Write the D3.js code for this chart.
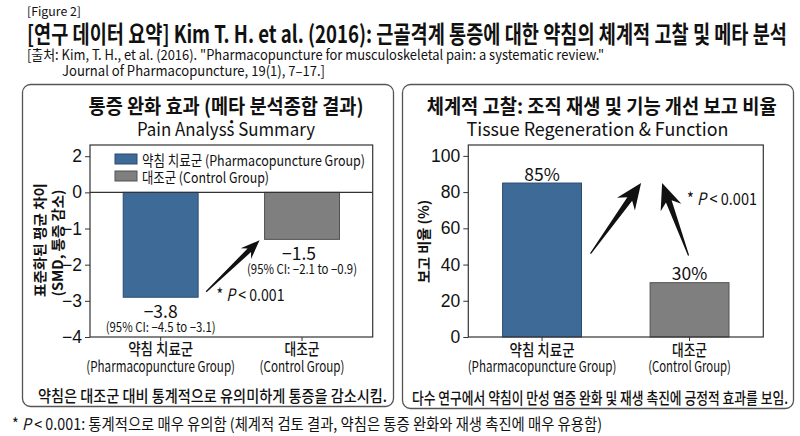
<!DOCTYPE html>
<html>
<head>
<meta charset="utf-8">
<script src="https://cdn.jsdelivr.net/npm/d3@7"></script>
<style>
  html, body { margin: 0; padding: 0; background: #fff; }
  svg { display: block; font-family: "Noto Sans CJK KR", "Noto Sans", sans-serif; }
  text { fill: #111; }
</style>
</head>
<body>
<svg id="chart" width="800" height="436"></svg>
<script>
// Chart values.
const groups = ["약침 치료군", "대조군"];
const groupsEn = ["(Pharmacopuncture Group)", "(Control Group)"];
const legendLabels = ["약침 치료군 (Pharmacopuncture Group)", "대조군 (Control Group)"];
const smdBars = [-2.9, -1.3];            // bar lengths as drawn in the figure
const smdLabels = ["−3.8", "−1.5"];
const smdCI = ["(95% CI: −4.5 to −3.1)", "(95% CI: −2.1 to −0.9)"];
// the figure spaces its ticks evenly, so "2" sits one step above 0
const smdTickPos = [1, 0, -1, -2, -3, -4];
const smdTickLabels = ["2", "0", "−1", "−2", "−3", "−4"];
const regenValues = [85, 30];
const regenTicks = [0, 20, 40, 60, 80, 100];
const barColors = ["#3e6a98", "#7f7f7f"];
const barStrokes = ["#2b4b6e", "#525252"];

const svg = d3.select("#chart");

// Squeeze a text to the width it has in the figure (the source font is narrow).
const fit = (sel, w) => sel.attr("textLength", w).attr("lengthAdjust", "spacingAndGlyphs");

const addText = (g, str, x, y, size, opts = {}) => {
    const t = g.append("text")
        .attr("x", x)
        .attr("y", y)
        .attr("dominant-baseline", "central")
        .attr("text-anchor", opts.anchor || "middle")
        .style("font-size", size + "px")
        .style("font-weight", opts.weight || 400)
        .text(str);
    if (opts.width) fit(t, opts.width);
    return t;
};

// Tapered arrow with a filled, swept-back head.
const arrow = (g, x0, y0, x1, y1, headLen, headW, shaftW) => {
    const dx = x1 - x0, dy = y1 - y0, len = Math.hypot(dx, dy);
    const ux = dx / len, uy = dy / len, nx = -uy, ny = ux;
    const bx = x1 - ux * headLen, by = y1 - uy * headLen;
    const nb = 0.25 * headLen;
    const pts = [
        [x0 + nx * 0.6, y0 + ny * 0.6],
        [bx + ux * nb + nx * shaftW / 2, by + uy * nb + ny * shaftW / 2],
        [bx + nx * headW / 2, by + ny * headW / 2],
        [x1, y1],
        [bx - nx * headW / 2, by - ny * headW / 2],
        [bx + ux * nb - nx * shaftW / 2, by + uy * nb - ny * shaftW / 2],
        [x0 - nx * 0.6, y0 - ny * 0.6]
    ];
    g.append("path").attr("d", d3.line()(pts) + "Z").attr("fill", "#111");
};

const pLabel = (g, x, y, w) => {
    const t = g.append("text")
        .attr("x", x).attr("y", y)
        .attr("dominant-baseline", "central")
        .style("font-size", "17px");
    t.append("tspan").text("* ");
    t.append("tspan").style("font-style", "italic").text("P");
    t.append("tspan").text(" < 0.001");
    fit(t, w);
};

// ---- header ----
addText(svg, "[Figure 2]", 27, 10, 12, { anchor: "start", width: 54 });
addText(svg, "[연구 데이터 요약] Kim T. H. et al. (2016): 근골격계 통증에 대한 약침의 체계적 고찰 및 메타 분석",
    27, 32.5, 24, { anchor: "start", weight: 700, width: 760 });
addText(svg, "[출처: Kim, T. H., et al. (2016). \"Pharmacopuncture for musculoskeletal pain: a systematic review.\"",
    27, 53.5, 14, { anchor: "start", width: 577 });
addText(svg, "Journal of Pharmacopuncture, 19(1), 7–17.]", 62, 70, 14, { anchor: "start", width: 263 });

// ---- panels ----
svg.append("rect").attr("x", 22.5).attr("y", 84.5).attr("width", 371).attr("height", 322)
    .attr("rx", 8).attr("fill", "none").attr("stroke", "#555").attr("stroke-width", 1.3);
svg.append("rect").attr("x", 402.5).attr("y", 84.5).attr("width", 391).attr("height", 324)
    .attr("rx", 8).attr("fill", "none").attr("stroke", "#555").attr("stroke-width", 1.3);

// ================= left: pain SMD =================
const L = { left: 90, right: 372.7, top: 145, bottom: 337 };
const xL = d3.scaleBand().domain(groups).range([L.left, L.right]).paddingInner(0.47).paddingOuter(0.235);
const yL = d3.scaleLinear().domain([-4, 1.31]).range([L.bottom, L.top]);
const gL = svg.append("g");

addText(gL, "통증 완화 효과 (메타 분석종합 결과)", 226, 105.5, 20, { weight: 700, width: 275 });
addText(gL, "Pain Analyṡs Summary", 226, 127.5, 18, { width: 178 });

gL.append("g")
    .attr("transform", `translate(${L.left},0)`)
    .call(d3.axisLeft(yL).tickValues(smdTickPos).tickSize(5).tickPadding(3)
        .tickFormat((d, i) => smdTickLabels[i]))
    .call(g => g.select(".domain").remove())
    .call(g => g.selectAll("text").style("font-size", "17.5px").attr("fill", "#111"))
    .call(g => g.selectAll("line").attr("stroke", "#333"));

gL.append("g")
    .attr("transform", `translate(0,${L.bottom})`)
    .call(d3.axisBottom(xL).tickSize(4).tickFormat(""))
    .call(g => g.select(".domain").remove())
    .call(g => g.selectAll("line").attr("stroke", "#333"));

gL.selectAll(".bar")
    .data(smdBars)
    .join("rect")
    .attr("class", "bar")
    .attr("x", (d, i) => xL(groups[i]))
    .attr("y", yL(0))
    .attr("width", xL.bandwidth())
    .attr("height", d => yL(d) - yL(0))
    .attr("fill", (d, i) => barColors[i])
    .attr("stroke", (d, i) => barStrokes[i])
    .attr("stroke-width", 1);

// frame and zero line
gL.append("rect").attr("x", L.left).attr("y", L.top)
    .attr("width", L.right - L.left).attr("height", L.bottom - L.top)
    .attr("fill", "none").attr("stroke", "#333").attr("stroke-width", 1.2);
gL.append("line").attr("x1", L.left).attr("x2", L.right)
    .attr("y1", yL(0)).attr("y2", yL(0)).attr("stroke", "#333").attr("stroke-width", 1.2);

// legend
legendLabels.forEach((lab, i) => {
    const cy = 159 + i * 17;
    gL.append("rect").attr("x", 115).attr("y", cy - 5).attr("width", 22).attr("height", 10)
        .attr("fill", barColors[i]).attr("stroke", barStrokes[i]);
    addText(gL, lab, 142, cy, 14.5, { anchor: "start", width: i === 0 ? 223 : 127 });
});

// value + CI labels under bars
smdBars.forEach((v, i) => {
    const cx = xL(groups[i]) + xL.bandwidth() / 2 - (i ? 3 : 0);
    addText(gL, smdLabels[i], cx, yL(v) + 13.5, 17.5);
    addText(gL, smdCI[i], cx + (i ? 3 : 0), yL(v) + 28.5, 13.5, { width: 110 });
});

// category labels
const catWidthsL = [[65, 148.7], [35, 85]];
groups.forEach((gname, i) => {
    const cx = xL(gname) + xL.bandwidth() / 2;
    addText(gL, gname, cx, 348, 16, { weight: 500, width: catWidthsL[i][0] });
    addText(gL, groupsEn[i], cx, 365, 15, { width: catWidthsL[i][1] });
});

// y axis title (two lines)
[["표준화된 평균 차이", 39, 240, 114], ["(SMD, 통증 감소)", 57, 243, 107]].forEach(([s, x, y, w]) => {
    addText(gL, s, 0, 0, 14, { weight: 700, width: w })
        .attr("transform", `translate(${x},${y}) rotate(-90)`);
});

// significance arrow
arrow(gL,
    xL(groups[0]) + xL.bandwidth() + 8, yL(-2.75),
    xL(groups[1]) - 5, yL(smdBars[1]) + 1,
    19, 15, 5);
pLabel(gL, 216.5, 293, 68);

addText(gL, "약침은 대조군 대비 통계적으로 유의미하게 통증을 감소시킴.", 212.5, 395, 16, { weight: 500, width: 349 });

// ================= right: tissue regeneration =================
const R = { left: 468.3, right: 763.3, top: 145, bottom: 337 };
const xR = d3.scaleBand().domain(groups).range([R.left, R.right]).paddingInner(0.465).paddingOuter(0.2325);
const yR = d3.scaleLinear().domain([0, 106]).range([R.bottom, R.top]);
const gR = svg.append("g");

addText(gR, "체계적 고찰: 조직 재생 및 기능 개선 보고 비율", 601.7, 105.5, 20, { weight: 700, width: 350 });
addText(gR, "Tissue Regeneration & Function", 597.5, 127.5, 18, { width: 262 });

gR.append("g")
    .attr("transform", `translate(${R.left},0)`)
    .call(d3.axisLeft(yR).tickValues(regenTicks).tickSize(5).tickPadding(3))
    .call(g => g.select(".domain").remove())
    .call(g => g.selectAll("text").style("font-size", "17.5px").attr("fill", "#111"))
    .call(g => g.selectAll("line").attr("stroke", "#333"));

gR.append("g")
    .attr("transform", `translate(0,${R.bottom})`)
    .call(d3.axisBottom(xR).tickSize(4).tickFormat(""))
    .call(g => g.select(".domain").remove())
    .call(g => g.selectAll("line").attr("stroke", "#333"));

gR.selectAll(".bar")
    .data(regenValues)
    .join("rect")
    .attr("class", "bar")
    .attr("x", (d, i) => xR(groups[i]))
    .attr("y", d => yR(d))
    .attr("width", xR.bandwidth())
    .attr("height", d => yR(0) - yR(d))
    .attr("fill", (d, i) => barColors[i])
    .attr("stroke", (d, i) => barStrokes[i])
    .attr("stroke-width", 1);

gR.append("rect").attr("x", R.left).attr("y", R.top)
    .attr("width", R.right - R.left).attr("height", R.bottom - R.top)
    .attr("fill", "none").attr("stroke", "#333").attr("stroke-width", 1.2);

regenValues.forEach((v, i) => {
    addText(gR, v + "%", xR(groups[i]) + xR.bandwidth() / 2, yR(v) - 10, 17.5);
});

const catWidthsR = [[65, 148.7], [35, 82.7]];
groups.forEach((gname, i) => {
    const cx = xR(gname) + xR.bandwidth() / 2;
    addText(gR, gname, cx, 349, 16, { weight: 500, width: catWidthsR[i][0] });
    addText(gR, groupsEn[i], cx, 365, 15, { width: catWidthsR[i][1] });
});

addText(gR, "보고 비율 (%)", 0, 0, 14, { weight: 700, width: 83 })
    .attr("transform", "translate(423,241.5) rotate(-90)");

// two arrows pointing up toward the gap between the bars
const gx = xR(groups[1]);
arrow(gR, xR(groups[0]) + xR.bandwidth() + 9, yR(46), gx - 9, yR(regenValues[0]), 26, 22, 6);
arrow(gR, gx + xR.bandwidth() / 2 - 1, yR(45), gx + 12, yR(regenValues[0]), 26, 22, 6);
pLabel(gR, 687, 197, 70);

addText(gR, "다수 연구에서 약침이 만성 염증 완화 및 재생 촉진에 긍정적 효과를 보임.", 600, 396.5, 16, { weight: 500, width: 376 });

// ---- footnote ----
const foot = svg.append("text")
    .attr("x", 12).attr("y", 423)
    .attr("dominant-baseline", "central")
    .style("font-size", "16px");
foot.append("tspan").text("* ");
foot.append("tspan").style("font-style", "italic").text("P");
foot.append("tspan").text(" < 0.001: 통계적으로 매우 유의함 (체계적 검토 결과, 약침은 통증 완화와 재생 촉진에 매우 유용함)");
fit(foot, 590);
</script>
</body>
</html>
